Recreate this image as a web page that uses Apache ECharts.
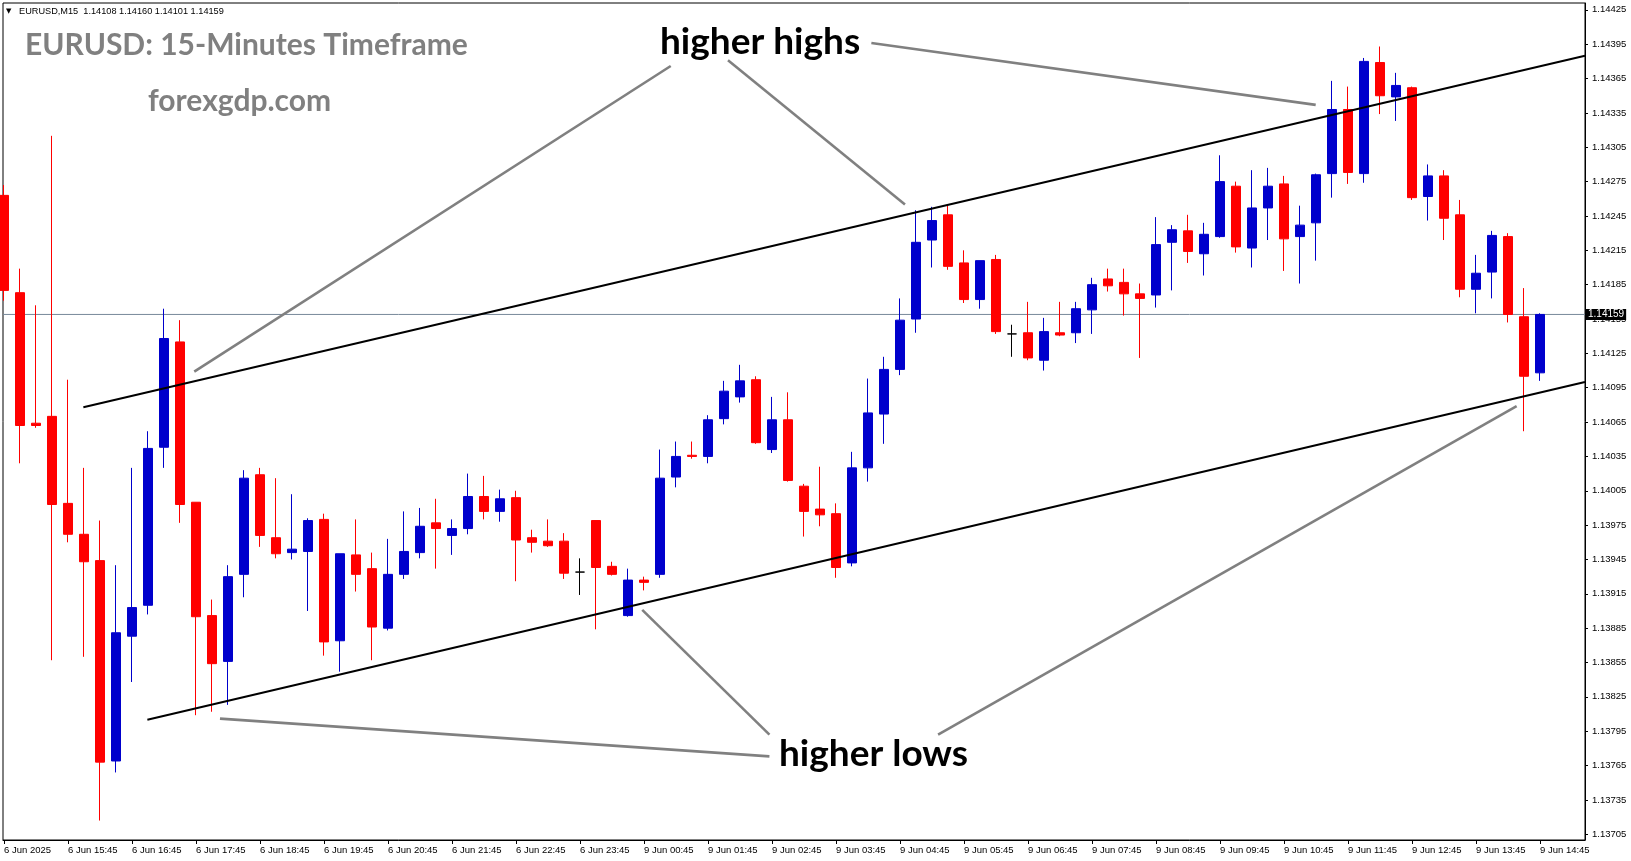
<!DOCTYPE html>
<html><head><meta charset="utf-8">
<script src="https://cdn.jsdelivr.net/npm/echarts@6/dist/echarts.min.js"></script>
<style>html,body{margin:0;padding:0;background:#fff}#c{width:1631px;height:861px}</style>
</head><body><div id="c"></div>
<script>
// ---- data ----
const barOpen = [1.14263,1.14178,1.14064,1.14070,1.13994,1.13967,1.13944,1.13769,1.13878,1.13905,
1.14043,1.14135,1.13995,1.13896,1.13856,1.13932,1.14019,1.13964,1.13951,1.13952,
1.13980,1.13874,1.13949,1.13937,1.13885,1.13932,1.13951,1.13977,1.13966,1.13972,
1.14000,1.13987,1.13999,1.13964,1.13961,1.13961,1.13934,1.13979,1.13939,1.13896,
1.13927,1.13932,1.14017,1.14036,1.14035,1.14068,1.14087,1.14102,1.14041,1.14067,
1.14009,1.13989,1.13985,1.13942,1.14025,1.14072,1.14111,1.14155,1.14224,1.14246,
1.14204,1.14172,1.14207,1.14142,1.14143,1.14119,1.14143,1.14143,1.14163,1.14190,
1.14187,1.14177,1.14176,1.14222,1.14232,1.14212,1.14227,1.14271,1.14217,1.14252,
1.14273,1.14227,1.14239,1.14282,1.14338,1.14282,1.14379,1.14349,1.14357,1.14262,
1.14280,1.14246,1.14181,1.14196,1.14227,1.14157,1.14108];
const barHigh = [1.14272,1.14199,1.14167,1.14315,1.14102,1.14025,1.13979,1.13940,1.14025,1.14057,
1.14164,1.14154,1.13995,1.13910,1.13940,1.14023,1.14025,1.14016,1.14002,1.13981,
1.13985,1.13950,1.13980,1.13951,1.13963,1.13987,1.13990,1.13998,1.13980,1.14020,
1.14018,1.14006,1.14005,1.13971,1.13980,1.13968,1.13946,1.13979,1.13943,1.13937,
1.13930,1.14041,1.14048,1.14048,1.14071,1.14101,1.14115,1.14105,1.14087,1.14091,
1.14011,1.14026,1.13994,1.14039,1.14103,1.14122,1.14173,1.14250,1.14253,1.14254,
1.14215,1.14206,1.14211,1.14150,1.14170,1.14156,1.14170,1.14170,1.14191,1.14199,
1.14199,1.14186,1.14244,1.14237,1.14246,1.14239,1.14298,1.14275,1.14285,1.14287,
1.14280,1.14254,1.14282,1.14363,1.14358,1.14383,1.14393,1.14370,1.14358,1.14290,
1.14285,1.14259,1.14211,1.14232,1.14230,1.14182,1.14160];
const barLow = [1.14171,1.14029,1.14060,1.13857,1.13960,1.13860,1.13717,1.13759,1.13838,1.13897,
1.14025,1.13977,1.13809,1.13812,1.13818,1.13912,1.13956,1.13946,1.13945,1.13900,
1.13861,1.13847,1.13917,1.13857,1.13883,1.13928,1.13946,1.13937,1.13949,1.13967,
1.13980,1.13978,1.13926,1.13951,1.13956,1.13928,1.13914,1.13884,1.13931,1.13895,
1.13918,1.13929,1.14008,1.14033,1.14029,1.14063,1.14082,1.14046,1.14038,1.14013,
1.13965,1.13974,1.13929,1.13939,1.14013,1.14046,1.14106,1.14143,1.14200,1.14198,
1.14169,1.14164,1.14142,1.14122,1.14119,1.14110,1.14140,1.14134,1.14142,1.14179,
1.14158,1.14121,1.14165,1.14180,1.14204,1.14193,1.14226,1.14213,1.14200,1.14224,
1.14197,1.14186,1.14206,1.14261,1.14273,1.14274,1.14334,1.14328,1.14259,1.14241,
1.14224,1.14174,1.14160,1.14173,1.14152,1.14057,1.14101];
const barClose = [1.14180,1.14062,1.14062,1.13993,1.13967,1.13943,1.13768,1.13881,1.13903,1.14042,
1.14138,1.13993,1.13895,1.13854,1.13930,1.14016,1.13966,1.13950,1.13954,1.13979,
1.13873,1.13950,1.13932,1.13886,1.13932,1.13952,1.13974,1.13972,1.13972,1.14000,
1.13987,1.13998,1.13962,1.13960,1.13957,1.13933,1.13934,1.13938,1.13932,1.13927,
1.13925,1.14016,1.14035,1.14035,1.14067,1.14092,1.14101,1.14047,1.14067,1.14014,
1.13987,1.13984,1.13938,1.14025,1.14073,1.14111,1.14154,1.14222,1.14241,1.14201,
1.14172,1.14206,1.14144,1.14142,1.14121,1.14144,1.14141,1.14164,1.14185,1.14184,
1.14177,1.14173,1.14220,1.14233,1.14214,1.14229,1.14275,1.14218,1.14252,1.14271,
1.14225,1.14237,1.14281,1.14338,1.14283,1.14380,1.14350,1.14359,1.14261,1.14280,
1.14243,1.14181,1.14195,1.14228,1.14159,1.14105,1.14159];

const xTickIdx = [0,4,8,12,16,20,24,28,32,36,40,44,48,52,56,60,64,68,72,76,80,84,88,92,96];
const xTickLabels = ['6 Jun 2025','6 Jun 15:45','6 Jun 16:45','6 Jun 17:45','6 Jun 18:45','6 Jun 19:45',
'6 Jun 20:45','6 Jun 21:45','6 Jun 22:45','6 Jun 23:45','9 Jun 00:45','9 Jun 01:45','9 Jun 02:45',
'9 Jun 03:45','9 Jun 04:45','9 Jun 05:45','9 Jun 06:45','9 Jun 07:45','9 Jun 08:45','9 Jun 09:45',
'9 Jun 10:45','9 Jun 11:45','9 Jun 12:45','9 Jun 13:45','9 Jun 14:45'];
const yTickLabels = [1.13705,1.13735,1.13765,1.13795,1.13825,1.13855,1.13885,1.13915,1.13945,1.13975,
1.14005,1.14035,1.14065,1.14095,1.14125,1.14155,1.14185,1.14215,1.14245,1.14275,1.14305,1.14335,
1.14365,1.14395,1.14425];
const lastPrice = 1.14159;

// trend lines and annotation arrows, in (bar index, price)
const trendUpper = [[4.96,1.14078],[98.81,1.14385]];
const trendLower = [[8.96,1.13805],[98.81,1.14100]];
const arrowHighs = [
  [[11.89,1.14109],[41.67,1.14376]],
  [[45.25,1.14381],[56.31,1.14255]],
  [[54.21,1.14396],[81.98,1.14342]]
];
const arrowLows = [
  [[13.50,1.13806],[47.84,1.13773]],
  [[39.89,1.13901],[47.84,1.13792]],
  [[58.38,1.13792],[94.54,1.14079]]
];

// ---- chart ----
const X_MIN = -0.0625, X_MAX = 98.8125;
const BLUE = '#0000CC', RED = '#FF0000';
const candles = barOpen.map((o, i) => {
  const v = [i, o, barClose[i], barLow[i], barHigh[i]];
  if (o === barClose[i]) {
    return {value: v, itemStyle: {color: '#000', color0: '#000', borderColor: '#000', borderColor0: '#000'}};
  }
  return v;
});

const lineSeries = (pts, color, width) => ({
  type: 'line', data: pts, symbol: 'none', silent: true, z: 4, clip: true,
  lineStyle: {color: color, width: width}, animation: false
});

const series = [
{
  type: 'line',
  data: [[X_MIN, lastPrice], [X_MAX, lastPrice]],
  symbol: 'none', silent: true, z: 1, clip: false, animation: false,
  lineStyle: {color: '#778899', width: 1},
  endLabel: {show: true, formatter: lastPrice.toFixed(5), backgroundColor: '#000', color: '#fff',
    fontSize: 10, fontFamily: 'Liberation Sans', padding: [1, 2, 0, 2], distance: 1}
},
{
  type: 'candlestick',
  data: candles,
  barWidth: 10,
  z: 2,
  itemStyle: {color: BLUE, color0: RED, borderColor: BLUE, borderColor0: RED, borderColorDoji: '#000', borderWidth: 1}
},
lineSeries(trendUpper, '#000', 2),
lineSeries(trendLower, '#000', 2)
];
arrowHighs.concat(arrowLows).forEach(a => series.push(lineSeries(a, '#808080', 2.6)));

const chart = echarts.init(document.getElementById('c'), null, {renderer: 'canvas', width: 1631, height: 861});
chart.setOption({
  animation: false,
  backgroundColor: '#fff',
  grid: {left: 3, right: 46, top: 3, bottom: 21, show: true, borderColor: '#000', borderWidth: 1, backgroundColor: 'transparent'},
  xAxis: {
    type: 'value', min: X_MIN, max: X_MAX, position: 'bottom',
    axisLine: {show: true, onZero: false, lineStyle: {color: '#000', width: 1}},
    axisTick: {show: true, customValues: xTickIdx, length: 4, lineStyle: {color: '#000'}},
    axisLabel: {customValues: xTickIdx, formatter: v => xTickLabels[xTickIdx.indexOf(Math.round(v))] || '',
      align: 'left', margin: 5, color: '#000', fontSize: 9.5, fontFamily: 'Liberation Sans'},
    splitLine: {show: false}
  },
  yAxis: {
    type: 'value', position: 'right', min: 1.137, max: 1.14431,
    axisLine: {show: true, onZero: false, lineStyle: {color: '#000', width: 1}},
    axisTick: {show: true, customValues: yTickLabels, length: 3, lineStyle: {color: '#000'}},
    axisLabel: {customValues: yTickLabels, formatter: v => Number(v).toFixed(5), margin: 7,
      color: '#000', fontSize: 9.5, fontFamily: 'Liberation Sans'},
    splitLine: {show: false}
  },
  series: series,
  graphic: [
    {type: 'text', x: 6, y: 11, z: 10, style: {text: '▼', fontSize: 7, fontFamily: 'DejaVu Sans', fill: '#000', verticalAlign: 'middle'}},
    {type: 'text', x: 19, y: 11, z: 10, style: {text: 'EURUSD,M15  1.14108 1.14160 1.14101 1.14159', fontSize: 9.2, fontFamily: 'Liberation Sans', fill: '#000', verticalAlign: 'middle'}},
    {type: 'text', x: 25, y: 45, z: 10, style: {text: 'EURUSD: 15-Minutes Timeframe', font: 'bold 30px Lato', fill: '#808080', verticalAlign: 'middle'}},
    {type: 'text', x: 148, y: 101, z: 10, style: {text: 'forexgdp.com', font: 'bold 30px Lato', fill: '#808080', verticalAlign: 'middle'}},
    {type: 'text', x: 660, y: 42, z: 10, style: {text: 'higher highs', font: 'bold 37px Lato', fill: '#000', verticalAlign: 'middle'}},
    {type: 'text', x: 779, y: 754, z: 10, style: {text: 'higher lows', font: 'bold 37px Lato', fill: '#000', verticalAlign: 'middle'}}
  ]
});
</script></body></html>
